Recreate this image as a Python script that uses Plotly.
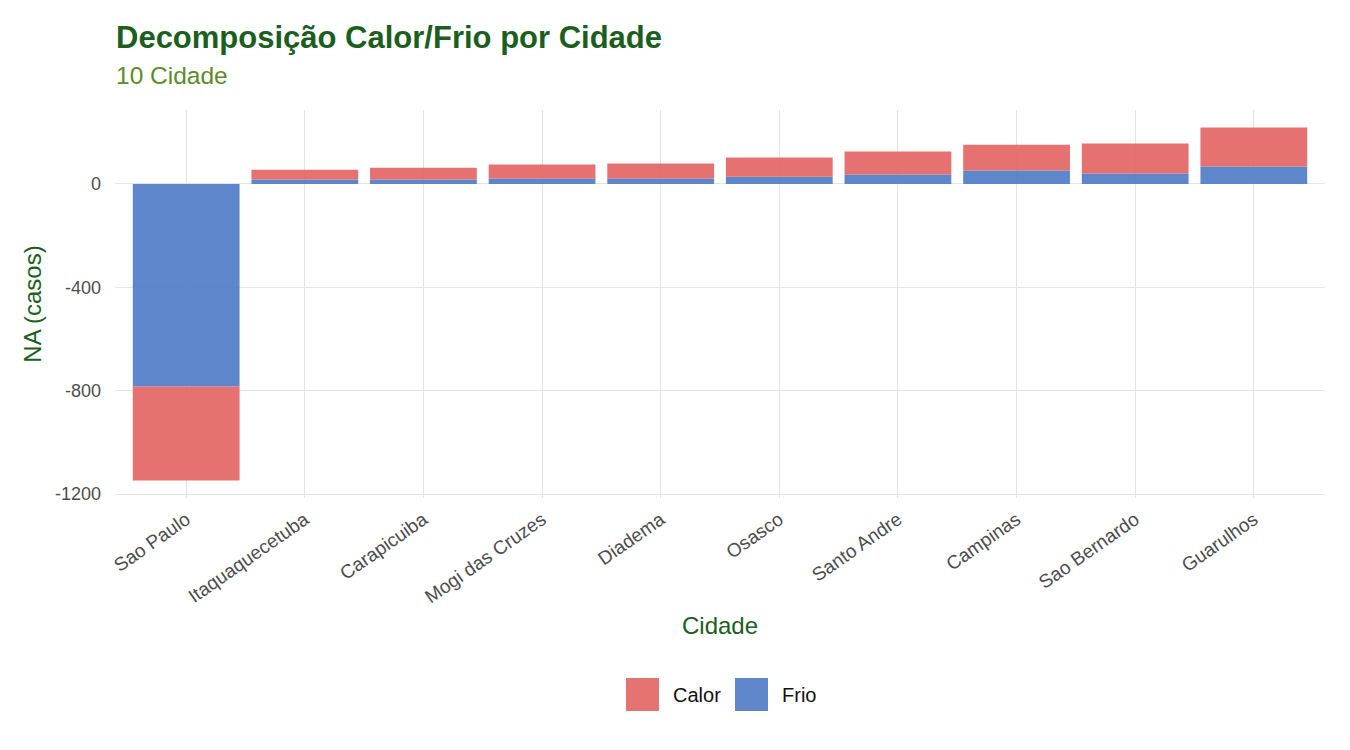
import plotly.graph_objects as go

cidades = ["Sao Paulo", "Itaquaquecetuba", "Carapicuiba", "Mogi das Cruzes", "Diadema",
           "Osasco", "Santo Andre", "Campinas", "Sao Bernardo", "Guarulhos"]
frio = [-784, 17, 17, 21, 21, 28, 36, 52, 40, 67]
calor = [-363, 38, 46, 54, 58, 74, 89, 100, 116, 151]
yticks = [0, -400, -800, -1200]

series_names = ["Calor", "Frio"]
series_colors = {"Calor": "#E26361", "Frio": "#4D79C5"}
legend_colors = {"Calor": "#E57371", "Frio": "#5F86CB"}

FONT = "Liberation Sans, Arial, sans-serif"

# plot area in pixels
L, R, T, B = 115, 25, 110, 252
W, H = 1350, 750
PW, PH = W - L - R, H - T - B


def px_to_paper_x(px):
    return (px - L) / PW


def px_to_paper_y(py):
    return (H - B - py) / PH


fig = go.Figure()
fig.add_trace(go.Bar(x=cidades, y=frio, name="Frio",
                     marker=dict(color=series_colors["Frio"], line_width=0, opacity=0.9),
                     showlegend=False))
fig.add_trace(go.Bar(x=cidades, y=calor, name="Calor",
                     marker=dict(color=series_colors["Calor"], line_width=0, opacity=0.9),
                     showlegend=False))

# manual legend with large square keys (ggplot-style)
shapes = []
annotations = []
key_x = [626, 735]
for name, kx in zip(series_names, key_x):
    shapes.append(dict(type="rect", xref="paper", yref="paper",
                       x0=px_to_paper_x(kx), x1=px_to_paper_x(kx + 33),
                       y0=px_to_paper_y(711), y1=px_to_paper_y(678),
                       fillcolor=legend_colors[name], line_width=0))
    annotations.append(dict(text=name, xref="paper", yref="paper",
                            x=px_to_paper_x(kx + 45), y=px_to_paper_y(694.5),
                            xanchor="left", yanchor="middle", showarrow=False,
                            font=dict(size=20, color="#111111", family=FONT)))

# subtitle
annotations.append(dict(text="10 Cidade", xref="paper", yref="paper",
                        x=px_to_paper_x(114), y=px_to_paper_y(75),
                        xanchor="left", yanchor="middle", showarrow=False,
                        font=dict(size=24.5, color="#5b8c2a", family=FONT)))

fig.update_layout(
    width=W, height=H,
    barmode="relative", bargap=0.1,
    plot_bgcolor="white", paper_bgcolor="white",
    font=dict(family=FONT, color="#4d4d4d"),
    margin=dict(l=L, r=R, t=T, b=B, autoexpand=False),
    showlegend=False,
    title=dict(
        text="<b>Decomposição Calor/Frio por Cidade</b>",
        x=116 / W, xanchor="left", yref="container", y=1 - 37 / H, yanchor="middle",
        font=dict(size=31, color="#1b5e20", family=FONT),
    ),
    xaxis=dict(
        range=[-0.6, 9.6], tickangle=-35, showgrid=True, gridcolor="#e3e3e3",
        tickfont=dict(size=19, color="#4d4d4d"), ticks="", showline=False,
        ticklabelstandoff=6,
        title=dict(text="Cidade", font=dict(size=24, color="#1b5e20"), standoff=10),
    ),
    yaxis=dict(
        range=[-1215, 286], tickvals=yticks, ticktext=[str(v) for v in yticks],
        showgrid=True, gridcolor="#e3e3e3", zeroline=True, zerolinecolor="#e3e3e3", zerolinewidth=1,
        tickfont=dict(size=18, color="#4d4d4d"), ticks="", ticklabelstandoff=13,
        title=dict(text="NA (casos)", font=dict(size=24, color="#1b5e20"), standoff=6),
    ),
    shapes=shapes,
    annotations=annotations,
)

fig.write_html("out.html")
